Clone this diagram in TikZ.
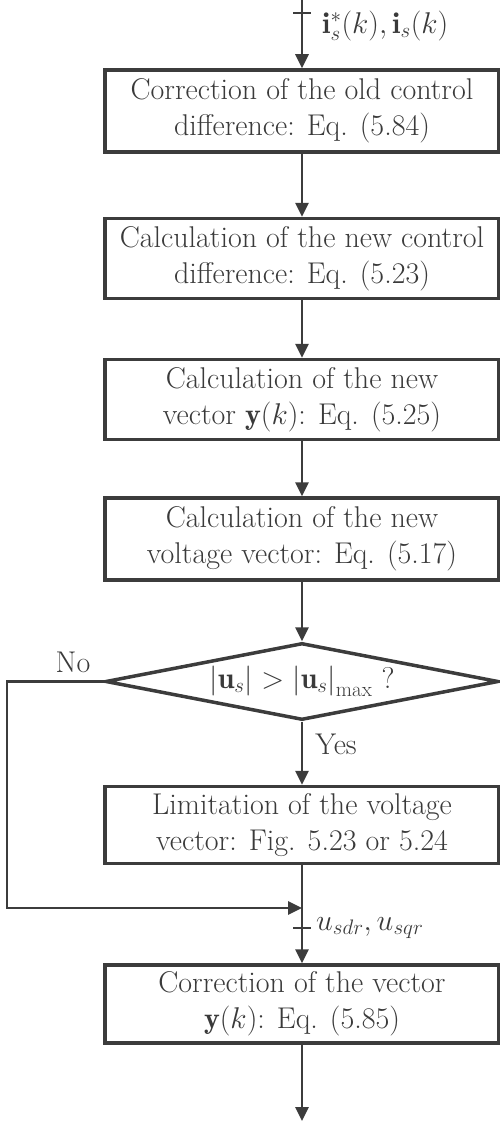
\RequirePackage{fix-cm}
\documentclass[tikz,border=0pt]{standalone}
\usepackage{fontspec}
\usetikzlibrary{shapes.geometric,arrows.meta}
\definecolor{ln}{HTML}{3C3C3C}
\definecolor{tx}{HTML}{3A3A3A}
\tikzset{
  stepbox/.style={draw=ln, line width=3.5pt, fill=white, minimum width=394pt, minimum height=80pt, align=center, text=tx, inner sep=0pt, font=\fontsize{30}{36}\selectfont},
  decision/.style={draw=ln, line width=3.5pt, shape=diamond, aspect=5.1, minimum width=393pt, minimum height=77pt, inner sep=0pt, text=tx, font=\fontsize{30}{36}\selectfont},
  arr/.style={draw=ln, line width=2.8pt, -{Triangle[length=14pt,width=13pt]}},
  plain/.style={draw=ln, line width=2.8pt},
  lbl/.style={text=tx, font=\fontsize{30}{34}\selectfont, inner sep=0pt}
}
\begin{document}
\begin{tikzpicture}[x=1pt,y=-1pt]
\useasboundingbox (0,0) rectangle (500,1121);
\node[stepbox, minimum height=82pt] (b1) at (302,111) {Correction of the old control\\difference: Eq. (5.84)};
\node[stepbox] (b2) at (302,258.5) {Calculation of the new control\\difference: Eq. (5.23)};
\node[stepbox] (b3) at (302,399.5) {Calculation of the new\\vector $\mathbf{y}(k)$: Eq. (5.25)};
\node[stepbox, minimum height=82pt] (b4) at (302,539) {Calculation of the new\\voltage vector: Eq. (5.17)};
\node[decision] (d) at (302,681.5) {$\left|\mathbf{u}_s\right| > \left|\mathbf{u}_s\right|_{\max}$ ?};
\node[stepbox, minimum height=77pt] (b5) at (302,825) {Limitation of the voltage\\vector: Fig. 5.23 or 5.24};
\node[stepbox, minimum height=78pt] (b6) at (302,1004) {Correction of the vector\\$\mathbf{y}(k)$: Eq. (5.85)};
\coordinate (in) at (302,0);
\coordinate (t1) at (302,13);
\coordinate (j) at (302,908);
\coordinate (t2) at (302,928);
\coordinate (nc) at (7,681.5);
\coordinate (out) at (302,1121);
\draw[arr] (in) -- (b1);
\draw[plain] ([xshift=-9pt]t1) -- ([xshift=9pt]t1);
\draw[arr] (b1) -- (b2);
\draw[arr] (b2) -- (b3);
\draw[arr] (b3) -- (b4);
\draw[arr] (b4) -- (d);
\draw[arr] (d) -- (b5);
\draw[arr] (b5) -- (b6);
\draw[arr] (d.west) -- (nc) |- (j);
\draw[plain] ([xshift=-9pt]t2) -- ([xshift=9pt]t2);
\draw[arr] (b6) -- (out);
\node[lbl, anchor=west] (lin) at (322,26) {$\mathbf{i}_s^{*}(k), \mathbf{i}_s(k)$};
\node[lbl] (lno) at (73,662) {No};
\node[lbl] (lyes) at (336,744) {Yes};
\node[lbl, anchor=west] (lu) at (316,928) {$u_{sdr}, u_{sqr}$};
\end{tikzpicture}
\end{document}
